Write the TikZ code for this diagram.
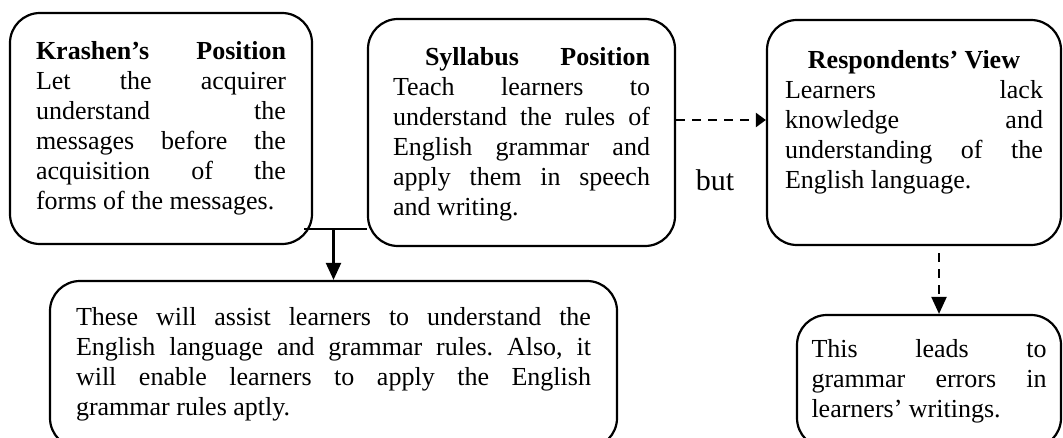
\documentclass[tikz,border=0pt]{standalone}
\usepackage{fontspec}
\setmainfont{Liberation Serif}
\usetikzlibrary{positioning,arrows.meta}
\setlength{\parindent}{0pt}
\hbadness=10000
\frenchspacing

\begin{document}
\begin{tikzpicture}[node distance=3cm,on grid,
    box/.style={draw,rounded corners=15pt,line width=1.1pt,align=justify,
      font=\fontsize{13pt}{15pt}\selectfont},
    arr/.style={line width=1.1pt,-{Triangle[length=8.5pt,width=7.5pt]}},
    darr/.style={arr,dash pattern=on 4.5pt off 3.5pt}]
  \clip[use as bounding box] (0,0) rectangle (531.5pt,-219pt);
  \fill[white] (0,0) rectangle (531.5pt,-219pt);
  \node[box,text width=125pt,minimum width=151pt,minimum height=115.5pt](krashen) at (80.5pt,-64.25pt)
    {\textbf{Krashen’s Position}\linebreak Let the acquirer\linebreak understand the\linebreak
     messages before the\linebreak acquisition of the\linebreak forms of the messages.};
  \node[box,text width=128.5pt,minimum width=153.5pt,minimum height=113.5pt,text height=11pt](syllabus)
    [right=180.25pt of krashen,yshift=-2pt]
    {\hspace*{16pt}\textbf{Syllabus Position}\linebreak Teach learners to\linebreak
     understand the rules of\linebreak English grammar and\linebreak apply them in speech\linebreak and writing.};
  \node[box,text width=129pt,minimum width=147pt,minimum height=112.5pt,text depth=73.5pt](respondents)
    [right=196.25pt of syllabus]
    {\hspace*{\fill}\textbf{Respondents’ View}\hspace*{\fill}\linebreak Learners lack\linebreak
     knowledge and\linebreak understanding of the\linebreak English language.};
  \node[box,text width=257.5pt,minimum width=283.5pt,minimum height=83.5pt](assist)
    [below right=118pt and 86.25pt of krashen]
    {These will assist learners to understand the\linebreak English language and grammar rules. Also, it\linebreak
     will enable learners to apply the English\linebreak grammar rules aptly.};
  \node[box,text width=117.5pt,minimum width=132pt,minimum height=66.5pt](errors)
    [below right=124.5pt and 7.5pt of respondents]
    {This leads to\linebreak grammar errors in\linebreak learners’ writings.};

  % joining line and arrows
  \draw[line width=1.1pt] ([xshift=-4.5pt,yshift=8pt]krashen.south east) coordinate (kjoin)
    -- (kjoin -| syllabus.west);
  \draw[arr] (kjoin -| assist.north) -- (assist.north);
  \draw[darr,-{Triangle[length=5pt,width=7pt]}] ([yshift=6.25pt]syllabus.east) -- ([yshift=6.25pt]respondents.west)
    node[midway,xshift=-3pt,yshift=-30pt,font=\fontsize{15pt}{18pt}\selectfont](but){but};
  \draw[darr,shorten <=3.5pt] ([xshift=5pt]errors.north |- respondents.south) -- ([xshift=5pt]errors.north);
\end{tikzpicture}
\end{document}
